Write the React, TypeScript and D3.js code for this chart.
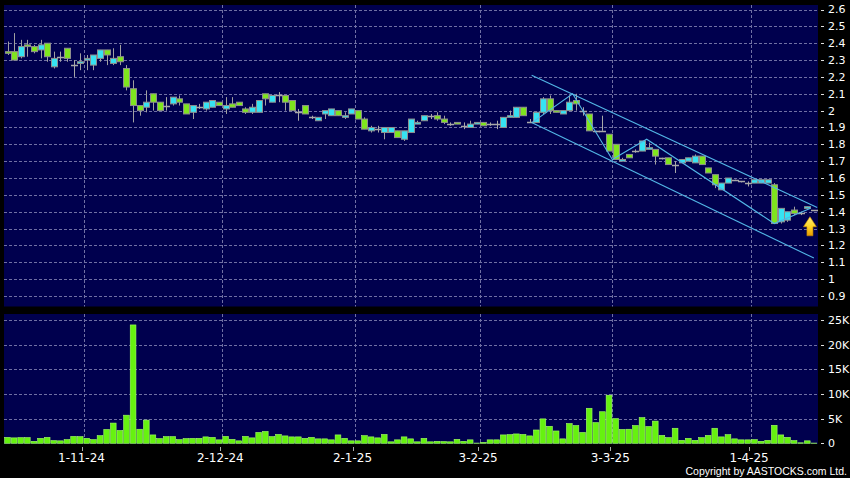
import React from "react";
import * as d3 from "d3";

// ---------- DATA ----------
const opens = [
  2.35, 2.35, 2.32, 2.39, 2.38, 2.36, 2.40, 2.26, 2.32, 2.37,
  2.27, 2.28, 2.30, 2.27, 2.31, 2.36, 2.28, 2.32, 2.25, 2.13,
  2.03, 2.02, 2.10, 2.05, 2.03, 2.04, 2.07, 2.04, 1.99, 2.02,
  2.01, 2.02, 2.05, 2.01, 2.04, 2.05, 2.01, 1.99, 1.99, 2.10,
  2.05, 2.09, 2.09, 2.06, 1.99, 2.03, 1.96, 1.94, 1.98, 1.97,
  2.00, 1.96, 1.98, 2.00, 1.95, 1.88, 1.89, 1.87, 1.87, 1.88,
  1.83, 1.87, 1.92, 1.94, 1.97, 1.97, 1.95, 1.92, 1.93, 1.91,
  1.90, 1.92, 1.93, 1.92, 1.92, 1.90, 1.96, 1.96, 2.02, 1.93,
  1.93, 1.99, 2.07, 2.00, 1.98, 2.00, 2.06, 2.00, 1.98, 1.88,
  1.88, 1.86, 1.80, 1.70, 1.74, 1.76, 1.76, 1.77, 1.77, 1.72,
  1.72, 1.68, 1.69, 1.70, 1.69, 1.73, 1.66, 1.62, 1.53, 1.57,
  1.59, 1.58, 1.57, 1.57, 1.57, 1.57, 1.56, 1.34, 1.35, 1.41,
  1.39, 1.42, 1.41,
];
const closes = [
  2.34, 2.30, 2.38, 2.38, 2.35, 2.39, 2.32, 2.31, 2.32, 2.31,
  2.27, 2.29, 2.31, 2.33, 2.36, 2.33, 2.31, 2.29, 2.14, 2.03,
  2.00, 2.05, 2.05, 2.00, 2.03, 2.08, 2.05, 1.98, 2.03, 2.02,
  2.05, 2.06, 2.03, 2.03, 2.02, 2.03, 1.99, 2.02, 2.06, 2.07,
  2.09, 2.09, 2.05, 2.00, 1.99, 1.98, 1.96, 1.96, 2.00, 2.01,
  1.97, 1.97, 2.01, 1.95, 1.89, 1.90, 1.89, 1.90, 1.90, 1.84,
  1.88, 1.95, 1.93, 1.97, 1.97, 1.95, 1.93, 1.92, 1.92, 1.91,
  1.92, 1.93, 1.91, 1.92, 1.92, 1.96, 1.97, 2.02, 1.97, 1.93,
  1.99, 2.07, 2.00, 1.99, 2.00, 2.05, 2.04, 2.00, 1.88, 1.88,
  1.88, 1.76, 1.71, 1.71, 1.72, 1.76, 1.82, 1.78, 1.73, 1.72,
  1.68, 1.68, 1.71, 1.72, 1.73, 1.68, 1.63, 1.56, 1.57, 1.60,
  1.59, 1.58, 1.57, 1.59, 1.59, 1.59, 1.33, 1.42, 1.40, 1.39,
  1.39, 1.43, 1.41,
];
const highs = [
  2.41, 2.46, 2.42, 2.42, 2.39, 2.42, 2.40, 2.35, 2.35, 2.37,
  2.30, 2.34, 2.33, 2.33, 2.36, 2.36, 2.37, 2.39, 2.27, 2.18,
  2.03, 2.12, 2.10, 2.05, 2.08, 2.08, 2.09, 2.04, 2.03, 2.04,
  2.05, 2.06, 2.05, 2.08, 2.08, 2.05, 2.02, 2.04, 2.06, 2.10,
  2.09, 2.11, 2.09, 2.06, 2.01, 2.03, 1.97, 1.96, 2.00, 2.01,
  2.00, 1.99, 2.01, 2.00, 1.96, 1.91, 1.91, 1.90, 1.90, 1.88,
  1.88, 1.95, 1.94, 1.97, 1.98, 1.99, 1.97, 1.93, 1.93, 1.93,
  1.94, 1.93, 1.93, 1.93, 1.94, 1.96, 2.00, 2.02, 2.02, 1.95,
  1.99, 2.08, 2.09, 2.00, 2.00, 2.09, 2.10, 2.02, 1.98, 1.88,
  1.97, 1.86, 1.80, 1.72, 1.74, 1.77, 1.82, 1.81, 1.77, 1.72,
  1.72, 1.70, 1.71, 1.72, 1.74, 1.73, 1.66, 1.62, 1.57, 1.60,
  1.59, 1.58, 1.58, 1.59, 1.59, 1.59, 1.57, 1.42, 1.40, 1.43,
  1.40, 1.43, 1.41,
];
const lows = [
  2.33, 2.30, 2.31, 2.32, 2.34, 2.31, 2.29, 2.25, 2.29, 2.29,
  2.20, 2.24, 2.24, 2.24, 2.29, 2.27, 2.27, 2.27, 2.12, 1.93,
  1.97, 1.99, 2.00, 2.00, 2.00, 2.03, 2.03, 1.98, 1.95, 2.01,
  2.00, 2.02, 2.03, 1.98, 2.02, 2.03, 1.98, 1.98, 1.99, 2.03,
  2.05, 2.05, 2.00, 2.00, 1.94, 1.98, 1.95, 1.94, 1.95, 1.97,
  1.97, 1.95, 1.98, 1.95, 1.89, 1.87, 1.87, 1.83, 1.87, 1.84,
  1.82, 1.87, 1.92, 1.94, 1.95, 1.94, 1.92, 1.91, 1.92, 1.89,
  1.90, 1.92, 1.91, 1.91, 1.89, 1.90, 1.96, 1.96, 1.97, 1.93,
  1.93, 1.98, 1.98, 1.99, 1.98, 2.00, 2.00, 1.97, 1.88, 1.88,
  1.88, 1.76, 1.71, 1.70, 1.72, 1.75, 1.76, 1.77, 1.68, 1.71,
  1.68, 1.63, 1.69, 1.70, 1.69, 1.68, 1.63, 1.54, 1.53, 1.57,
  1.59, 1.58, 1.55, 1.57, 1.57, 1.57, 1.33, 1.33, 1.34, 1.38,
  1.38, 1.42, 1.41,
];
// volume in thousands of shares
const volumesK = [
  1.2, 1.1, 1.15, 1.15, 0.4, 1.0, 1.2, 0.55, 0.5, 0.75,
  1.4, 1.35, 1.0, 0.75, 1.55, 2.8, 4.1, 2.6, 5.7, 24.0,
  2.85, 4.7, 1.7, 0.95, 1.35, 1.35, 0.75, 0.95, 1.0, 1.0,
  1.3, 1.2, 0.7, 1.4, 0.8, 0.5, 1.4, 1.1, 2.2, 2.4,
  1.35, 1.8, 1.5, 1.3, 1.3, 1.0, 1.2, 0.9, 0.9, 0.7,
  1.7, 1.0, 0.5, 0.5, 1.55, 1.3, 1.1, 1.8, 0.3, 0.7,
  1.3, 0.9, 0.3, 1.0, 0.3, 0.4, 0.35, 0.3, 0.8, 0.4,
  0.7, 0.05, 0.2, 0.7, 0.7, 1.7, 1.75, 1.9, 1.8, 1.5,
  2.7, 4.95, 3.45, 2.5, 0.9, 4.0, 3.6, 2.2, 7.1, 4.2,
  6.4, 9.75, 5.0, 2.8, 2.85, 3.6, 5.2, 3.4, 4.5, 1.6,
  1.15, 3.05, 0.6, 1.0, 0.6, 1.15, 1.6, 3.05, 1.3, 1.75,
  0.9, 0.7, 0.7, 0.75, 0.4, 0.6, 3.65, 1.7, 1.2, 0.55,
  0.1, 0.5, 0.05,
];

const priceTicks = [0.9, 1.0, 1.1, 1.2, 1.3, 1.4, 1.5, 1.6, 1.7, 1.8, 1.9, 2.0, 2.1, 2.2, 2.3, 2.4, 2.5, 2.6];
const priceTickLabels = ["0.9", "1", "1.1", "1.2", "1.3", "1.4", "1.5", "1.6", "1.7", "1.8", "1.9", "2", "2.1", "2.2", "2.3", "2.4", "2.5", "2.6"];
const volumeTicks = [0, 5000, 10000, 15000, 20000, 25000];
const volumeTickLabels = ["0", "5K", "10K", "15K", "20K", "25K"];
const dateTickLabels = ["1-11-24", "2-12-24", "2-1-25", "3-2-25", "3-3-25", "1-4-25"];
const dateTickIndex = [12, 33, 53, 72, 92, 113];

// drawn trend lines: [candle index, price]
const upperChannel: [number, number][] = [[79.3, 2.21], [122.5, 1.425]];
const lowerChannel: [number, number][] = [[79.3, 1.93], [122, 1.125]];
const zigzag: [number, number][] = [[79.4, 1.93], [85.5, 2.10], [91.5, 1.71], [96.7, 1.83], [116, 1.33], [121.5, 1.42]];
const arrowAt: [number, number] = [121.4, 1.37];

// ---------- LAYOUT ----------
const W = 850, H = 478;
const panelL = 4, panelR = 818;
const priceTop = 5, priceBottom = 306.5;
const volTop = 314, volBottom = 444;

const FONT = "DejaVu Sans, Verdana, sans-serif";
const GREEN = "#7FE51E";
const CYAN = "#36E3F2";
const OUTLINE = "#8E8E8E";
const GRID = "#7070A4";
const NAVY = "#00004E";
const TREND = "#52B6E6";

export default function App() {
  const n = opens.length;
  const x = d3.scaleLinear().domain([0, n - 1]).range([7.5, 813.9]);
  const step = x(1) - x(0);
  const yP = d3.scaleLinear().domain([0.9, 2.6]).range([296, 9.5]);
  const yV = d3.scaleLinear().domain([0, 25000]).range([443.3, 320]);
  const bodyW = 6;
  const volW = step - 0.9;

  const line = d3.line<[number, number]>().x((d) => x(d[0])).y((d) => yP(d[1]));

  const gridXs = dateTickIndex.map((i) => x(i) - step / 2);

  const ax = x(arrowAt[0]);
  const ay = yP(arrowAt[1]);
  const arrowPath = `M${ax},${ay} L${ax + 6.5},${ay + 10} L${ax + 3},${ay + 10} L${ax + 3},${ay + 19} L${ax - 3},${ay + 19} L${ax - 3},${ay + 10} L${ax - 6.5},${ay + 10} Z`;

  return (
    <svg width={W} height={H} style={{ position: "absolute", left: 0, top: 0, background: "#000" }}>
      <defs>
        <linearGradient id="arrowGrad" x1="0" y1="0" x2="0" y2="1">
          <stop offset="0" stopColor="#FFF27A" />
          <stop offset="0.55" stopColor="#FFD21F" />
          <stop offset="1" stopColor="#E89A00" />
        </linearGradient>
        <clipPath id="priceClip">
          <rect x={panelL} y={priceTop} width={panelR - panelL} height={priceBottom - priceTop} />
        </clipPath>
      </defs>
      <rect x={0} y={0} width={W} height={H} fill="#000" />
      {/* panels */}
      <rect x={panelL} y={priceTop} width={panelR - panelL} height={priceBottom - priceTop} fill={NAVY} />
      <rect x={panelL} y={volTop} width={panelR - panelL} height={volBottom - volTop} fill={NAVY} />

      {/* grids */}
      {priceTicks.map((t, i) => (
        <line key={"pg" + i} x1={panelL} x2={panelR} y1={Math.round(yP(t)) + 0.5} y2={Math.round(yP(t)) + 0.5}
          stroke={GRID} strokeDasharray="3,2" strokeWidth={1} />
      ))}
      {volumeTicks.slice(1).map((t, i) => (
        <line key={"vg" + i} x1={panelL} x2={panelR} y1={Math.round(yV(t)) + 0.5} y2={Math.round(yV(t)) + 0.5}
          stroke={GRID} strokeDasharray="3,2" strokeWidth={1} />
      ))}
      {gridXs.map((gx, i) => (
        <g key={"xg" + i}>
          <line x1={Math.round(gx) + 0.5} x2={Math.round(gx) + 0.5} y1={priceTop} y2={priceBottom}
            stroke={GRID} strokeDasharray="3,2" />
          <line x1={Math.round(gx) + 0.5} x2={Math.round(gx) + 0.5} y1={volTop} y2={volBottom}
            stroke={GRID} strokeDasharray="3,2" />
        </g>
      ))}

      {/* volume bars */}
      {volumesK.map((v, i) => {
        const top = yV(v * 1000);
        const h = Math.max(0, yV(0) - top);
        return (
          <rect key={"v" + i} x={x(i) - volW / 2} y={top} width={volW} height={h}
            fill="#66F20F" stroke="#A6FF6A" strokeWidth={0.6} />
        );
      })}

      {/* candles */}
      <g clipPath="url(#priceClip)">
        {opens.map((o, i) => {
          const c = closes[i];
          const cx = Math.round(x(i)) + 0.5;
          const hi = yP(highs[i]);
          const lo = yP(lows[i]);
          if (o === c) {
            const yy = Math.round(yP(o)) + 0.5;
            return (
              <g key={"c" + i}>
                <line x1={cx} x2={cx} y1={hi} y2={Math.max(lo, hi + 1)} stroke="#A8A8A8" />
                <line x1={cx - 3.5} x2={cx + 3.5} y1={yy} y2={yy} stroke="#A8A8A8" strokeWidth={1.5} />
              </g>
            );
          }
          const up = c > o;
          const bt = yP(Math.max(o, c));
          const bb = yP(Math.min(o, c));
          return (
            <g key={"c" + i}>
              <line x1={cx} x2={cx} y1={hi} y2={lo} stroke="#A0A0A0" />
              <rect x={cx - bodyW / 2} y={bt} width={bodyW} height={Math.max(1.5, bb - bt)}
                fill={up ? CYAN : GREEN} stroke={OUTLINE} strokeWidth={1} />
            </g>
          );
        })}

        {/* trend lines */}
        <path d={line(upperChannel) || ""} fill="none" stroke={TREND} strokeWidth={1.1} />
        <path d={line(lowerChannel) || ""} fill="none" stroke={TREND} strokeWidth={1.1} />
        <path d={line(zigzag) || ""} fill="none" stroke={TREND} strokeWidth={1.1} />

        {/* arrow */}
        <path d={arrowPath} fill="url(#arrowGrad)" stroke="#C88800" strokeWidth={0.6} />
      </g>

      {/* price axis labels */}
      {priceTicks.map((t, i) => (
        <g key={"pl" + i}>
          <line x1={821} x2={824} y1={Math.round(yP(t)) + 0.5} y2={Math.round(yP(t)) + 0.5} stroke="#ddd" />
          <text x={828} y={yP(t)} dy="0.36em" fill="#fff" fontFamily={FONT} fontSize={11}>{priceTickLabels[i]}</text>
        </g>
      ))}
      {/* volume axis labels */}
      {volumeTicks.map((t, i) => (
        <g key={"vl" + i}>
          <line x1={821} x2={824} y1={Math.round(yV(t)) + 0.5} y2={Math.round(yV(t)) + 0.5} stroke="#ddd" />
          <text x={828} y={yV(t)} dy="0.36em" fill="#fff" fontFamily={FONT} fontSize={11}>{volumeTickLabels[i]}</text>
        </g>
      ))}

      {/* date axis */}
      {gridXs.map((gx, i) => (
        <g key={"dl" + i}>
          <line x1={Math.round(gx) - 1.5} x2={Math.round(gx) - 1.5} y1={447} y2={451} stroke="#aaa" />
          <text x={gx - 2} y={461.5} textAnchor="middle" fill="#fff" fontFamily={FONT} fontSize={12}>{dateTickLabels[i]}</text>
        </g>
      ))}

      <text x={847} y={474.5} textAnchor="end" fill="#fff" fontFamily="Liberation Sans, Arial, sans-serif" fontSize={10.5}>
        Copyright by AASTOCKS.com Ltd.
      </text>
    </svg>
  );
}
